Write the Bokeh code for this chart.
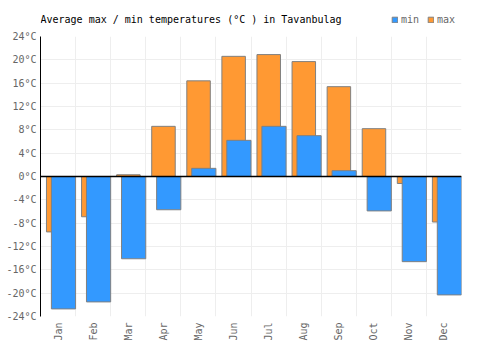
import math
from bokeh.plotting import figure
from bokeh.layouts import column
from bokeh.models import (Range1d, FixedTicker, PrintfTickFormatter, Span, Legend,
                          LegendItem, ColumnDataSource, Label)
from bokeh.embed import file_html
from bokeh.resources import INLINE

months = ["Jan", "Feb", "Mar", "Apr", "May", "Jun", "Jul", "Aug", "Sep", "Oct", "Nov", "Dec"]
max_temp = [-9.5, -6.9, 0.3, 8.6, 16.4, 20.6, 20.9, 19.7, 15.4, 8.2, -1.2, -7.8]
min_temp = [-22.7, -21.5, -14.1, -5.7, 1.4, 6.2, 8.6, 7.0, 1.0, -5.9, -14.6, -20.3]
y_ticks = list(range(-24, 25, 4))
title_text = "Average max / min temperatures (°C ) in Tavanbulag"

FONT = "DejaVu Sans Mono"
MAX_COLOR = "#ff9933"
MIN_COLOR = "#3399ff"
EDGE = "#808080"
idx = list(range(len(months)))

src = ColumnDataSource(dict(
    xmax=[i + 0.505 for i in idx],
    xmin=[i + 0.655 for i in idx],
    tmax=max_temp,
    tmin=min_temp,
))

# ---------- header (title + legend); its frame is aligned with the chart frame ----------
h = figure(width=500, height=30, output_backend="svg", toolbar_location=None,
           x_range=Range1d(0, 1), y_range=Range1d(0, 1),
           x_axis_location=None, y_axis_location=None,
           min_border_left=40, min_border_right=39,
           min_border_top=0, min_border_bottom=0)
h.grid.visible = False
h.outline_line_color = None
# legend swatches only (kept outside the visible range)
hm = h.vbar(x=[-5], top=[0], bottom=[0], width=0.5, fill_color=MIN_COLOR, line_color=EDGE)
hx = h.vbar(x=[-5], top=[0], bottom=[0], width=0.5, fill_color=MAX_COLOR, line_color=EDGE)
h.add_layout(Label(x=0, y=11, x_units="screen", y_units="screen", text=title_text,
                   text_font=FONT, text_font_size="10px", text_color="black",
                   text_baseline="middle", text_align="left"))
legend = Legend(items=[LegendItem(label="min", renderers=[hm]),
                       LegendItem(label="max", renderers=[hx])],
                orientation="horizontal", location=(351, 5),
                label_text_font=FONT, label_text_font_size="10px", label_text_color="#666666",
                glyph_width=7, glyph_height=7, label_standoff=3, spacing=6,
                padding=0, margin=0, border_line_color=None, background_fill_alpha=0)
h.add_layout(legend, "center")

# ---------- main chart ----------
p = figure(width=500, height=320, output_backend="svg", toolbar_location=None,
           x_range=Range1d(0, 12), y_range=Range1d(-24, 24),
           min_border_left=40, min_border_right=39, min_border_top=6, min_border_bottom=34)

p.vbar(x="xmax", top="tmax", bottom=0, width=0.67, source=src,
       fill_color=MAX_COLOR, line_color=EDGE, line_width=1)
p.vbar(x="xmin", top="tmin", bottom=0, width=0.69, source=src,
       fill_color=MIN_COLOR, line_color=EDGE, line_width=1)

p.add_layout(Span(location=0, dimension="width", line_color="black", line_width=1.5))

p.yaxis.ticker = FixedTicker(ticks=y_ticks)
p.yaxis.formatter = PrintfTickFormatter(format="%d°C")
p.yaxis.major_label_text_font = FONT
p.yaxis.major_label_text_font_size = "10px"
p.yaxis.major_label_text_color = "#666666"
p.yaxis.axis_line_color = "black"
p.yaxis.major_tick_line_color = None
p.yaxis.minor_tick_line_color = None
p.yaxis.major_tick_out = 0
p.yaxis.major_tick_in = 0
p.yaxis.major_label_standoff = 4

p.xaxis.ticker = FixedTicker(ticks=[i + 0.5 for i in idx])
p.xaxis.major_label_overrides = {i + 0.5: m for i, m in enumerate(months)}
p.xaxis.major_label_orientation = math.pi / 2
p.xaxis.major_label_text_font = FONT
p.xaxis.major_label_text_font_size = "10px"
p.xaxis.major_label_text_color = "#666666"
p.xaxis.axis_line_color = None
p.xaxis.major_tick_line_color = None
p.xaxis.minor_tick_line_color = None
p.xaxis.major_tick_out = 0
p.xaxis.major_tick_in = 0
p.xaxis.major_label_standoff = 6

p.xgrid.ticker = FixedTicker(ticks=list(range(0, 13)))
p.ygrid.ticker = FixedTicker(ticks=y_ticks)
p.xgrid.grid_line_color = "#eeeeee"
p.ygrid.grid_line_color = "#eeeeee"
p.outline_line_color = None

layout = column(h, p, spacing=0)
open("out.html", "w").write(file_html(layout, INLINE))
